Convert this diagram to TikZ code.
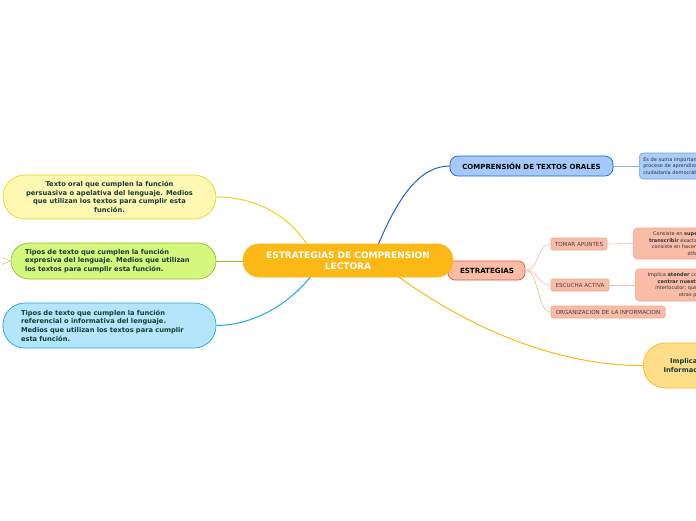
\documentclass[tikz,border=0pt]{standalone}
\usepackage{fontspec}
\setmainfont{DejaVu Sans}
\usetikzlibrary{calc}
\definecolor{naranja}{HTML}{FCB815}
\definecolor{amarilloF}{HTML}{FFF8B2}
\definecolor{amarilloB}{HTML}{EBD51F}
\definecolor{verdeF}{HTML}{D5F77C}
\definecolor{verdeB}{HTML}{8FBF26}
\definecolor{celesteF}{HTML}{B3E6FB}
\definecolor{celesteB}{HTML}{1DA6E0}
\definecolor{azulF}{HTML}{A5C9FA}
\definecolor{azulB}{HTML}{1C60D2}
\definecolor{azulcajaF}{HTML}{A9CDF9}
\definecolor{azulcajaB}{HTML}{6E9EE8}
\definecolor{salmonF}{HTML}{F9BCA7}
\definecolor{salmonB}{HTML}{E65432}
\definecolor{salmonL}{HTML}{F6A68C}
\definecolor{oroF}{HTML}{FFDD89}
\definecolor{oroB}{HTML}{F9B91C}
\definecolor{textoazul}{HTML}{173B3B}
\begin{document}
\begin{tikzpicture}[x=1pt, y=-1pt,
    nodoizq/.style={draw, line width=0.7pt, inner ysep=0pt, text=textoazul,
        font=\bfseries\fontsize{6.7}{8.7}\selectfont},
    nodosub/.style={draw=salmonL, fill=salmonF, line width=0.6pt, rounded corners=2pt,
        inner sep=0pt, minimum height=12pt, text=black!75,
        font=\fontsize{5.6}{6}\selectfont},
    nodonota/.style={line width=0.6pt, rounded corners=4pt, inner xsep=4pt, inner ysep=0pt,
        anchor=west, font=\fontsize{5}{6.6}\selectfont, text=black!80}]
    \useasboundingbox (0,0) rectangle (696,520);
    \clip (0,0) rectangle (696,520);

    % nodos de la izquierda
    \node[nodoizq, fill=amarilloF, draw=amarilloB, rounded corners=22pt,
          minimum width=213pt, minimum height=44pt, align=center] (persuasiva) at (109.5,197)
        {Texto oral que cumplen la función\\ persuasiva o apelativa del lenguaje. Medios\\
         que utilizan los textos para cumplir esta\\ función.};
    \node[nodoizq, fill=verdeF, draw=verdeB, rounded corners=18pt,
          minimum height=36pt, text width=177pt, inner xsep=14pt, align=left] (expresiva) at (113.5,261)
        {Tipos de texto que cumplen la función\\ expresiva del lenguaje. Medios que utilizan\\
         los textos para cumplir esta función.};
    \node[nodoizq, fill=celesteF, draw=celesteB, rounded corners=22pt,
          minimum height=45pt, text width=177pt, inner xsep=18pt, align=left] (referencial) at (109.5,325.5)
        {Tipos de texto que cumplen la función\\ referencial o informativa del lenguaje.\\
         Medios que utilizan los textos para cumplir\\ esta función.};
    % marca de rama plegada
    \coordinate (plegA) at (2,257.5);
    \coordinate (plegB) at (2,264.5);
    \draw[verdeB!70, line width=0.5pt] (plegA) -- (expresiva.west) -- (plegB);

    % rama ESTRATEGIAS (debajo del nodo central)
    \node[draw=salmonB, fill=salmonF, line width=0.7pt, rounded corners=7pt,
          minimum width=77pt, minimum height=19pt, inner sep=0pt,
          font=\bfseries\fontsize{7.1}{8}\selectfont] (estrategias) at (486.5,270.5) {\hspace*{1pt}ESTRATEGIAS};
    \node[nodosub, minimum width=56pt] (tomar) at (579,244) {TOMAR APUNTES};
    \node[nodosub, minimum width=58pt] (escucha) at (580,285) {ESCUCHA ACTIVA};
    \node[nodosub, minimum width=114pt] (organiza) at (608,312) {ORGANIZACION DE LA INFORMACION};
    \foreach \sub in {tomar, escucha, organiza} {
        \draw[salmonL!80, line width=0.6pt] (estrategias.east)
            .. controls ($(estrategias.east)+(14,0)$) and ($(\sub.west)+(-14,0)$) .. (\sub.west);
    }
    \node[nodonota, draw=salmonL, fill=salmonF, minimum height=31pt, text width=124pt,
          align=center, inner xsep=5pt] (notatomar) at (633,243.5)
        {Consiste en \textbf{superar la tendencia a}\\ \textbf{transcribir} exactamente lo que se dice,\\
         consiste en hacer una selección de las\\ diferentes};
    \node[nodonota, draw=salmonL, fill=salmonF, minimum height=32pt, text width=118pt,
          align=center, inner xsep=4pt] (notaescucha) at (635,285)
        {Implica \textbf{atender} con todos los sentidos,\\ \textbf{centrar nuestra energía} en el\\
         interlocutor; que se comunica con\\ otras personas.};
    \draw[salmonL!80, line width=0.6pt] (tomar.east) -- (notatomar.west);
    \draw[salmonL!80, line width=0.6pt] (escucha.east) -- (notaescucha.west);

    % rama COMPRENSIÓN DE TEXTOS ORALES
    \node[draw=azulB, fill=azulF, line width=0.7pt, rounded corners=8pt,
          minimum width=163pt, minimum height=20pt, inner sep=0pt,
          font=\bfseries\fontsize{7}{8}\selectfont] (orales) at (531.5,166) {COMPRENSIÓN DE TEXTOS ORALES};
    \node[nodonota, draw=azulcajaB, fill=azulcajaF, minimum height=26pt, text width=130pt,
          align=left] (notaorales) at (639,166)
        {Es de suma importancia en el\\ proceso de aprendizaje para la\\ ciudadanía democrática.};
    \draw[azulcajaB!80, line width=0.6pt] (orales.east) -- (notaorales.west);

    % rama inferior
    \node[draw=oroB, fill=oroF, line width=0.7pt, rounded corners=22pt, anchor=west,
          minimum height=45pt, text width=112pt, inner xsep=8pt, align=center, text=textoazul,
          font=\bfseries\fontsize{6.7}{8.7}\selectfont] (implica) at (643,365.5)
        {Implica organizar la\\ Información escuchada};

    % conectores del nodo central
    \draw[amarilloB, line width=1pt] (persuasiva.east)
        .. controls (270,197) and (300,230) .. (310,250);
    \draw[verdeB, line width=1pt] (expresiva.east) -- (250,261);
    \draw[celesteB, line width=1pt] (referencial.east)
        .. controls (262,325) and (298,295) .. (314,272);
    \draw[azulB, line width=1pt] (376,250)
        .. controls (398,196) and (420,166) .. (orales.west);
    \draw[naranja, line width=1pt] (392,272)
        .. controls (470,330) and (560,366) .. (implica.west);

    % nodo central
    \node[fill=naranja, draw=naranja, line width=0.7pt, rounded corners=16pt,
          minimum width=210pt, minimum height=33pt, inner sep=0pt, align=center, text=white,
          font=\bfseries\fontsize{9}{11}\selectfont] (centro) at (348,260.5)
        {ESTRATEGIAS DE COMPRENSION\\ LECTORA};
\end{tikzpicture}
\end{document}
